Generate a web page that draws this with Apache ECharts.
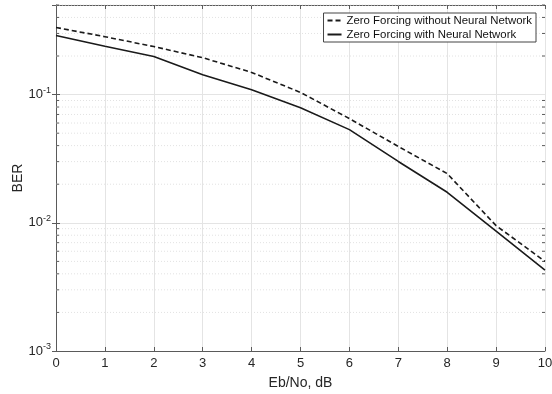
<!DOCTYPE html>
<html>
<head>
<meta charset="utf-8">
<script src="https://cdn.jsdelivr.net/npm/echarts@6/dist/echarts.min.js"></script>
<style>
  html, body { margin: 0; padding: 0; background: #fff; }
  #container { width: 552px; height: 394px; }
</style>
</head>
<body>
<div id="container"></div>
<script>
// Data
var ebno = [0, 1, 2, 3, 4, 5, 6, 7, 8, 9, 10];
var berNoNN = [0.334, 0.283, 0.237, 0.194, 0.149, 0.104, 0.065, 0.0394, 0.0242, 0.0095, 0.0050];
var berNN = [0.289, 0.238, 0.198, 0.143, 0.109, 0.079, 0.0533, 0.0301, 0.0173, 0.0086, 0.00427];
var xTicks = [0, 1, 2, 3, 4, 5, 6, 7, 8, 9, 10];
var yMin = 0.001, yMax = 0.5;

// minor grid positions 2..9 per decade
var minorVals = [];
[0.001, 0.01, 0.1].forEach(function (d) {
    for (var k = 2; k <= 9; k++) {
        var v = d * k;
        if (v <= yMax) minorVals.push([0, +v.toPrecision(3)]);
    }
});

var txt = '#262626';
var axisCol = '#5a5a5a';
var font = 'Liberation Sans, Arial, sans-serif';

var myChart = echarts.init(document.getElementById('container'));

function pair(a, b) {
    return a.map(function (x, i) { return [x, b[i]]; });
}

var option = {
    animation: false,
    textStyle: { fontFamily: font },
    grid: { left: 56, right: 7, top: 5, bottom: 43, containLabel: false, outerBoundsMode: 'none' },
    legend: {
        orient: 'vertical',
        right: 16,
        top: 13,
        itemWidth: 14,
        itemHeight: 8,
        itemGap: 3,
        padding: [2, 4, 2, 3],
        borderColor: '#444',
        borderWidth: 1,
        backgroundColor: '#fff',
        itemStyle: { opacity: 0 },
        textStyle: { fontSize: 11.4, color: '#111', fontFamily: font },
        data: ['Zero Forcing without Neural Network', 'Zero Forcing with Neural Network']
    },
    xAxis: [{
        type: 'value',
        min: 0, max: 10, interval: 1,
        name: 'Eb/No, dB',
        nameLocation: 'middle',
        nameGap: 25,
        nameTextStyle: { fontSize: 14, color: txt },
        axisLine: { lineStyle: { color: axisCol, width: 1 } },
        axisTick: { inside: true, length: 4, lineStyle: { color: axisCol } },
        axisLabel: { fontSize: 13, color: txt, margin: 6,
            formatter: function (v) { return xTicks.indexOf(v) >= 0 ? String(v) : ''; } },
        splitLine: { show: true, lineStyle: { color: '#e4e4e4', width: 1 } }
    }, {
        type: 'value',
        position: 'top',
        min: 0, max: 10, interval: 1,
        axisLine: { show: true, lineStyle: { color: axisCol, width: 1 } },
        axisTick: { show: true, inside: true, length: 4, lineStyle: { color: axisCol } },
        axisLabel: { show: false },
        splitLine: { show: false }
    }],
    yAxis: [{
        type: 'log',
        logBase: 10,
        min: yMin, max: yMax,
        name: 'BER',
        nameLocation: 'middle',
        nameGap: 31,
        nameMoveOverlap: false,
        nameRotate: 90,
        nameTextStyle: { fontSize: 14, color: txt },
        axisLine: { show: true, lineStyle: { color: axisCol, width: 1 } },
        axisTick: { show: true, inside: true, length: 4, lineStyle: { color: axisCol } },
        axisLabel: {
            margin: 5,
            showMaxLabel: false,
            formatter: function (v) {
                var e = Math.log10(v);
                if (Math.abs(e - Math.round(e)) > 1e-6) return '';
                return '{b|10}{s|' + Math.round(e) + '}';
            },
            rich: {
                b: { fontSize: 13, color: txt, fontFamily: font },
                s: { fontSize: 9, color: txt, fontFamily: font, padding: [0, 0, 8, 0] }
            }
        },
        splitLine: { show: true, lineStyle: { color: '#e4e4e4', width: 1 } }
    }, {
        type: 'log',
        logBase: 10,
        position: 'right',
        min: yMin, max: yMax,
        axisLine: { show: true, lineStyle: { color: axisCol, width: 1 } },
        axisTick: { show: true, inside: true, length: 4, lineStyle: { color: axisCol } },
        axisLabel: { show: false },
        splitLine: { show: false }
    }],
    series: [
        {
            // minor grid + minor ticks on both y sides
            type: 'custom',
            silent: true,
            z: 1,
            data: minorVals,
            renderItem: function (params, api) {
                var v = api.value(1);
                var a = api.coord([0, v]);
                var b = api.coord([10, v]);
                var st = { stroke: axisCol, lineWidth: 1 };
                return {
                    type: 'group',
                    children: [
                        { type: 'line', shape: { x1: a[0], y1: a[1], x2: b[0], y2: b[1] },
                          style: { stroke: '#e2e2e2', lineWidth: 1, lineDash: [1, 2] } },
                        { type: 'line', shape: { x1: a[0], y1: a[1], x2: a[0] + 3, y2: a[1] }, style: st },
                        { type: 'line', shape: { x1: b[0] - 3, y1: b[1], x2: b[0], y2: b[1] }, style: st }
                    ]
                };
            }
        },
        {
            name: 'Zero Forcing without Neural Network',
            type: 'line',
            data: pair(ebno, berNoNN),
            showSymbol: false,
            symbol: 'none',
            z: 3,
            lineStyle: { color: '#1a1a1a', width: 1.6, type: [5, 3] },
            itemStyle: { color: '#1a1a1a' }
        },
        {
            name: 'Zero Forcing with Neural Network',
            type: 'line',
            data: pair(ebno, berNN),
            showSymbol: false,
            symbol: 'none',
            z: 3,
            lineStyle: { color: '#1a1a1a', width: 1.6 },
            itemStyle: { color: '#1a1a1a' }
        }
    ]
};
myChart.setOption(option);
</script>
</body>
</html>
